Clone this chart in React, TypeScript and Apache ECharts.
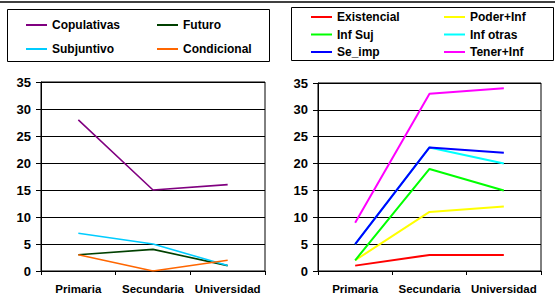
import React, { useEffect, useRef } from "react";
import * as echarts from "echarts";

const categories = ["Primaria", "Secundaria", "Universidad"];
const yTicks = { min: 0, max: 35, interval: 5 };

const leftNames = ["Copulativas", "Futuro", "Subjuntivo", "Condicional"];
const leftColors = ["#800080", "#004000", "#00ccff", "#ff6600"];
const copulativas = [28, 15, 16];
const futuro = [3, 4, 1];
const subjuntivo = [7, 5, 1];
const condicional = [3, 0, 2];
const leftValues = [copulativas, futuro, subjuntivo, condicional];

const rightNames = ["Existencial", "Poder+Inf", "Inf Suj", "Inf otras", "Se_imp", "Tener+Inf"];
const rightColors = ["#ff0000", "#ffff00", "#00ff00", "#00ffff", "#0000ff", "#ff00ff"];
const existencial = [1, 3, 3];
const poderInf = [2, 11, 12];
const infSuj = [2, 19, 15];
const infOtras = [5, 23, 20];
const seImp = [5, 23, 22];
const tenerInf = [9, 33, 34];
const rightValues = [existencial, poderInf, infSuj, infOtras, seImp, tenerInf];

const FONT = "'Liberation Sans', Arial, sans-serif";

export default function App() {
  const ref = useRef<HTMLDivElement>(null);
  useEffect(() => {
    if (!ref.current) return;
    const chart = echarts.init(ref.current, null, { renderer: "svg" });
    const xAxisBase = (gridIndex: number) => ({
      type: "category",
      gridIndex,
      data: categories,
      boundaryGap: true,
      axisLine: { show: true, lineStyle: { color: "#000", width: 1 } },
      axisTick: { show: true, length: 4, alignWithLabel: false, lineStyle: { color: "#000" } },
      axisLabel: { color: "#000", fontWeight: "bold", fontSize: 11.5, fontFamily: FONT, margin: 12, interval: 0 },
      splitLine: { show: false },
    });
    const yAxisBase = (gridIndex: number) => ({
      type: "value",
      gridIndex,
      min: yTicks.min,
      max: yTicks.max,
      interval: yTicks.interval,
      axisLine: { show: true, lineStyle: { color: "#000", width: 1 } },
      axisTick: { show: true, length: 5, lineStyle: { color: "#000" } },
      axisLabel: { color: "#000", fontWeight: "bold", fontSize: 13, fontFamily: FONT, margin: 10 },
      splitLine: { show: true, lineStyle: { color: "#000", width: 1 } },
    });
    const legendText = { color: "#000", fontWeight: "bold", fontSize: 12, fontFamily: FONT };
    const legendBase = (left: number, top: number, data: string[], gap: number) => ({
      orient: "vertical",
      left,
      top,
      padding: 0,
      itemGap: gap,
      itemWidth: 21,
      itemHeight: 2,
      icon: "rect",
      textStyle: legendText,
      selectedMode: false,
      data,
    });
    const series: any[] = [];
    leftNames.forEach((n, i) =>
      series.push({
        type: "line",
        name: n,
        xAxisIndex: 0,
        yAxisIndex: 0,
        data: leftValues[i],
        symbol: "none",
        color: leftColors[i],
        lineStyle: { width: 1.6, color: leftColors[i] },
      })
    );
    rightNames.forEach((n, i) =>
      series.push({
        type: "line",
        name: n,
        xAxisIndex: 1,
        yAxisIndex: 1,
        data: rightValues[i],
        symbol: "none",
        color: rightColors[i],
        lineStyle: { width: 2, color: rightColors[i] },
      })
    );
    chart.setOption({
      animation: false,
      backgroundColor: "#fff",
      grid: [
        { left: 41, right: 290, top: 82, bottom: 24, show: true, borderColor: "#000", borderWidth: 1 },
        { left: 318, right: 14, top: 83, bottom: 23, show: true, borderColor: "#000", borderWidth: 1 },
      ],
      xAxis: [xAxisBase(0), xAxisBase(1)],
      yAxis: [yAxisBase(0), yAxisBase(1)],
      legend: [
        legendBase(26, 19, ["Copulativas", "Subjuntivo"], 12),
        legendBase(157, 19, ["Futuro", "Condicional"], 12),
        legendBase(311, 11, ["Existencial", "Inf Suj", "Se_imp"], 5.5),
        legendBase(444, 11, ["Poder+Inf", "Inf otras", "Tener+Inf"], 5.5),
      ],
      graphic: [
        { type: "line", shape: { x1: 0, y1: 2, x2: 555, y2: 2 }, style: { stroke: "#000", lineWidth: 1.5 } },
        { type: "rect", shape: { x: 7.5, y: 9.5, width: 262, height: 52 }, style: { fill: "none", stroke: "#000", lineWidth: 1 } },
        { type: "rect", shape: { x: 291.5, y: 7.5, width: 262, height: 53 }, style: { fill: "none", stroke: "#000", lineWidth: 1 } },
      ],
      series,
    });
    return () => chart.dispose();
  }, []);
  return <div ref={ref} style={{ position: "fixed", left: 0, top: 0, width: 555, height: 295 }} />;
}
